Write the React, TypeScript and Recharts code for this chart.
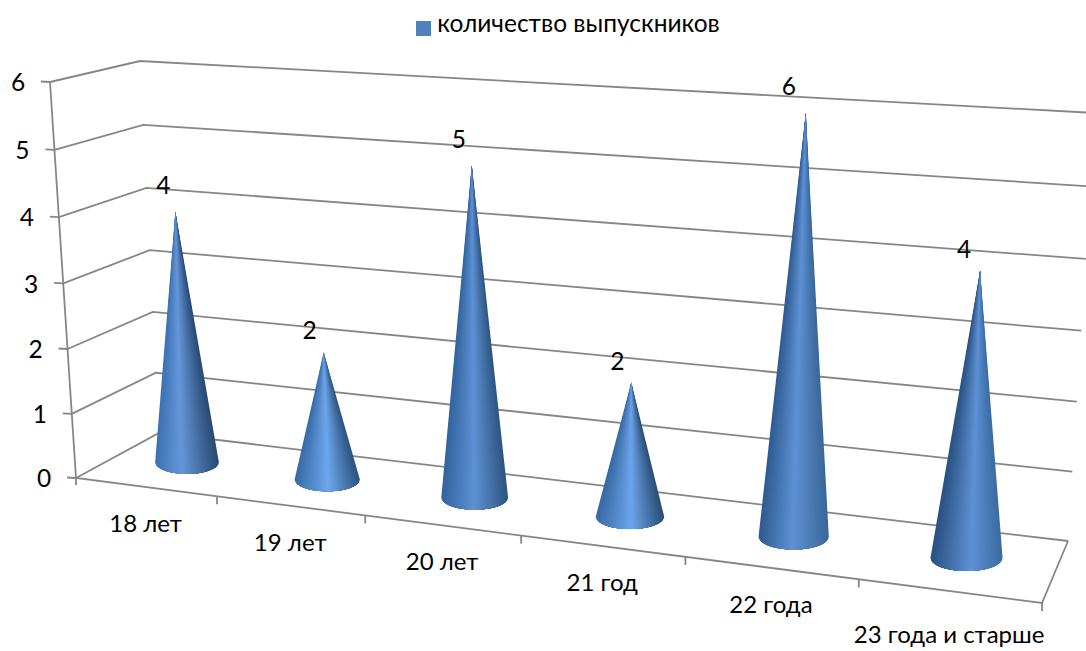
import React from 'react';
import { BarChart, Bar, XAxis, YAxis, CartesianGrid, Legend, LabelList } from 'recharts';

const ageGroups = ['18 лет', '19 лет', '20 лет', '21 год', '22 года', '23 года и старше'];
const graduates = [4, 2, 5, 2, 6, 4];
const valueTicks = [0, 1, 2, 3, 4, 5, 6];
const seriesName = 'количество выпускников';

const chartRows = ageGroups.map((age, i) => ({ age, count: graduates[i] }));

const WIDTH = 1086;
const HEIGHT = 651;
const FONT = "Lato, 'Open Sans', sans-serif";
const GRID = '#868686';
const GRID_W = 1.8;

// flat plot area that recharts lays out; everything is then projected into the 3D box
const PLOT = { left: 100, top: 60, width: 900, height: 490 };
const BAND = 1 / ageGroups.length;

type Pt = [number, number];
const lerp = (a: Pt, b: Pt, t: number): Pt => [a[0] + (b[0] - a[0]) * t, a[1] + (b[1] - a[1]) * t];

// perspective foreshortening
const warp = (n: number, p: number) => n / (1 + p * (1 - n));
const warpU = (u: number) => warp(u, 0.17);
const warpV = (v: number) => warp(v, 0.035);

const toU = (px: number) => (px - PLOT.left) / PLOT.width;
const toV = (py: number) => (PLOT.top + PLOT.height - py) / PLOT.height;

// box corners as seen in the picture
const frontLeft0: Pt = [76, 478];
const frontLeft1: Pt = [50, 82];
const frontRight0: Pt = [1042, 603];
const backLeft0: Pt = [159, 433];
const backLeft1: Pt = [140, 61];
const backRight0: Pt = [1068, 541];
const backRight1: Pt = [1095, 113];
// plane the cones stand in
const coneBase0: Pt = [119, 454];
const coneBase1: Pt = [1056, 569];
const coneTop0: Pt = [98, 78.5];
const coneTop1: Pt = [1081, 126.5];

const frontEdge = (u: number) => lerp(frontLeft0, frontRight0, warpU(u));
const conePoint = (u: number, v: number) => {
  const s = warpU(u);
  return lerp(lerp(coneBase0, coneBase1, s), lerp(coneTop0, coneTop1, s), warpV(v));
};

const path = (pts: Pt[]) => pts.map((p, i) => `${i ? 'L' : 'M'}${p[0]} ${p[1]}`).join(' ');

const GridLine = (props: any) => {
  const v = toV(props.y1);
  const w = warpV(v);
  const a = lerp(frontLeft0, frontLeft1, w);
  const b = lerp(backLeft0, backLeft1, w);
  const c = lerp(backRight0, backRight1, w);
  const atFloor = Math.abs(v) < 0.001;
  return (
    <g fill="none" stroke={GRID} strokeWidth={GRID_W}>
      <path d={path([a, b, c])} />
      {atFloor && <path d={path([frontLeft1, frontLeft0, frontRight0, backRight0])} />}
    </g>
  );
};

const ValueTick = (props: any) => {
  const w = warpV(toV(props.y));
  const p = lerp(frontLeft0, frontLeft1, w);
  return (
    <g>
      <line x1={p[0] - 9} y1={p[1] - 0.5} x2={p[0]} y2={p[1]} stroke={GRID} strokeWidth={GRID_W} />
      <text x={p[0] - 32} y={p[1] + 3} textAnchor="middle" dominantBaseline="middle" fontFamily={FONT} fontSize={24.5} fill="#000">
        {props.payload.value}
      </text>
    </g>
  );
};

const AgeTick = (props: any) => {
  const u = toU(props.x);
  const mid = frontEdge(u);
  const end = frontEdge(u + BAND / 2);
  const start = frontEdge(u - BAND / 2);
  const last = props.index === ageGroups.length - 1;
  return (
    <g>
      {props.index === 0 && <line x1={start[0]} y1={start[1]} x2={start[0]} y2={start[1] + 7} stroke={GRID} strokeWidth={GRID_W} />}
      <line x1={end[0]} y1={end[1]} x2={end[0]} y2={end[1] + 8} stroke={GRID} strokeWidth={GRID_W} />
      <text x={mid[0]} y={mid[1] + (last ? 46 : 39)} textAnchor="middle" dominantBaseline="middle" fontFamily={FONT} fontSize={24} fill="#000">
        {props.payload.value}
      </text>
    </g>
  );
};

// left edge, highlight position, highlight, right edge of each cone
const coneShades: [string, number, string, string][] = [
  ['#3d72b2', 0.42, '#6698dc', '#2a4b73'],
  ['#3a6da8', 0.52, '#6fa8ee', '#2f5682'],
  ['#33649e', 0.5, '#5f93d6', '#2f5683'],
  ['#386aa5', 0.52, '#6ea6ec', '#2c5079'],
  ['#2f5c92', 0.48, '#5f92d6', '#3a6899'],
  ['#2a5283', 0.56, '#5f92d6', '#3b6ca3'],
];

const rgb = (hex: string) => [1, 3, 5].map((i) => parseInt(hex.slice(i, i + 2), 16));
const mixColor = (a: string, b: string, t: number) => {
  const ca = rgb(a);
  const cb = rgb(b);
  return `rgb(${ca.map((c, i) => Math.round(c + (cb[i] - c) * t)).join(',')})`;
};

const STEPS = 24;

// nested wedges fanned out from the tip, so the shading narrows towards the point
const Cone = (props: any) => {
  const { x, y, width, index } = props;
  const u = toU(x + width / 2);
  const base = conePoint(u, 0);
  const tip = conePoint(u, toV(y));
  const half = (width / 2) * (1 + 0.16 * warpU(u));
  const ry = half * 0.36;
  const [leftColor, pos, midColor, rightColor] = coneShades[index];
  const rim = (t: number): Pt => {
    const dx = 2 * t - 1;
    return [base[0] + half * dx, base[1] + ry * Math.sqrt(Math.max(0, 1 - dx * dx))];
  };
  const wedge = (from: number, to: number, color: string, key: string) => {
    const a = rim(from);
    const b = rim(to);
    return <path key={key} d={`M${tip[0]} ${tip[1]} L${a[0]} ${a[1]} A${half} ${ry} 0 0 0 ${b[0]} ${b[1]} Z`} fill={color} />;
  };
  const layers = [];
  for (let k = 0; k < STEPS; k++) {
    const f = k / STEPS;
    layers.push(wedge(pos * f, pos, mixColor(leftColor, midColor, f), `l${k}`));
    layers.push(wedge(pos, 1 - (1 - pos) * f, mixColor(rightColor, midColor, f), `r${k}`));
  }
  return <g>{layers}</g>;
};

// data labels sit a little unevenly round the tips
const labelNudge: Pt[] = [[-12, -25], [-14, -21], [-13, -25], [-14, -20], [-17, -25], [-16, -20]];

const renderCount = (props: any) => {
  const u = toU(props.x + props.width / 2);
  const tip = conePoint(u, toV(props.y));
  const nudge = labelNudge[props.index];
  return (
    <text x={tip[0] + nudge[0]} y={tip[1] + nudge[1] + 1} textAnchor="middle" dominantBaseline="middle" fontFamily={FONT} fontSize={24.5} fill="#000">
      {props.value}
    </text>
  );
};

export default function App() {
  return (
    <div style={{ position: 'absolute', left: 0, top: 0, width: WIDTH, height: HEIGHT, background: '#fff', overflow: 'hidden' }}>
      <BarChart
        width={WIDTH}
        height={HEIGHT}
        data={chartRows}
        barSize={63}
        margin={{ left: PLOT.left - 60, top: PLOT.top, right: WIDTH - PLOT.left - PLOT.width, bottom: HEIGHT - PLOT.top - PLOT.height - 30 }}
      >
        <CartesianGrid vertical={false} horizontal={(p: any) => <GridLine key={p.key} {...p} />} />
        <XAxis dataKey="age" height={30} interval={0} axisLine={false} tickLine={false} tick={(p: any) => <AgeTick {...p} />} />
        <YAxis width={60} domain={[0, 6]} ticks={valueTicks} axisLine={false} tickLine={false} tick={(p: any) => <ValueTick {...p} />} />
        <Legend
          verticalAlign="middle"
          align="center"
          iconType="square"
          iconSize={15}
          formatter={(v: string) => <span style={{ color: '#000', fontFamily: FONT, fontSize: 24.5, marginLeft: 2 }}>{v}</span>}
          wrapperStyle={{ top: 8, left: 30, width: WIDTH }}
        />
        <Bar dataKey="count" name={seriesName} fill="#4F81BD" shape={<Cone />} isAnimationActive={false}>
          <LabelList dataKey="count" content={renderCount} />
        </Bar>
      </BarChart>
    </div>
  );
}
